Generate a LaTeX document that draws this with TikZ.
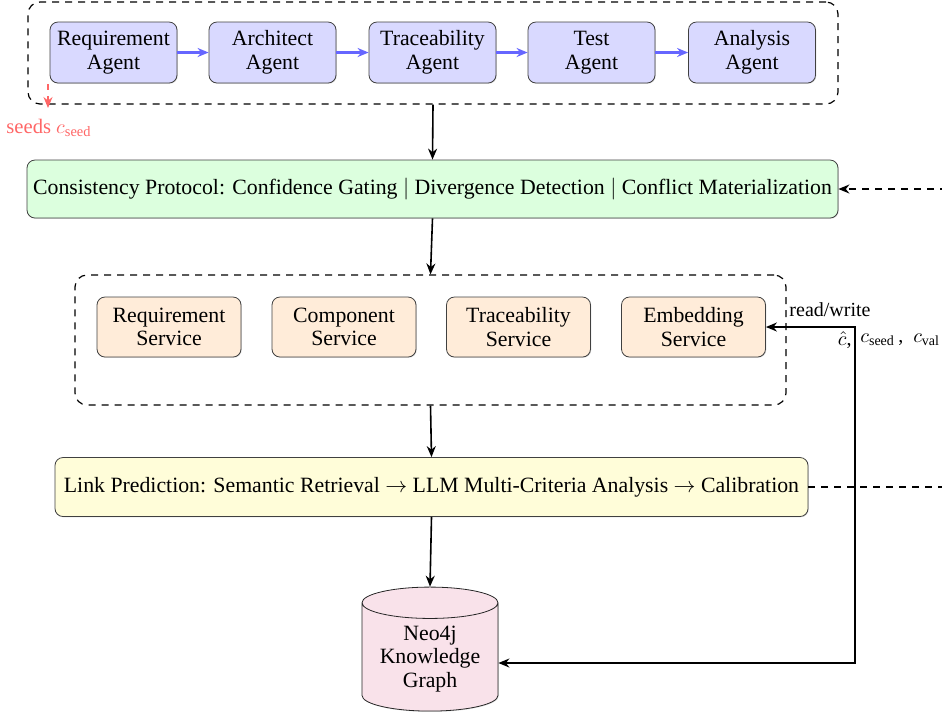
\documentclass[tikz,border=0pt]{standalone}
\usepackage{fontspec}
\setmainfont{Liberation Serif}
\usetikzlibrary{shapes.geometric,arrows.meta,shadows}
\definecolor{dbpink}{RGB}{249,226,234}
\definecolor{consgreen}{RGB}{220,255,222}
\begin{document}
\begin{tikzpicture}[x=0.5pt,y=-0.5pt,
  font=\fontsize{10.9pt}{11.8pt}\selectfont,
  box/.style={draw=black!75, rounded corners=4pt, align=center, inner sep=1pt,
    drop shadow={shadow xshift=0.4pt,shadow yshift=-0.4pt,opacity=0.25}},
  agent/.style={box, fill=blue!15, minimum width=63.5pt, minimum height=30.5pt},
  service/.style={box, fill=orange!15, minimum width=72pt, minimum height=30pt},
  container/.style={draw=black, line width=0.6pt, dash pattern=on 3.5pt off 3pt, rounded corners=6pt, minimum height=0pt, inner sep=0pt},
  flow/.style={-{Stealth[length=5.5pt,width=4.5pt]}, thick},
  agentflow/.style={-{Stealth[length=5.5pt,width=4.5pt]}, very thick, blue!60},
  feedback/.style={thick, dash pattern=on 3.5pt off 3pt},
  lbl/.style={inner sep=0pt, font=\fontsize{10pt}{11pt}\selectfont}
]
\useasboundingbox (0,0) rectangle (942,720);
\clip (0,0) rectangle (942,720);

% top container with agents
\node[container, minimum width=405pt, minimum height=51pt] (top) at (433,53) {};
\node[agent] (a1) at (113.5,52.5) {Requirement\\Agent};
\node[agent] (a2) at (272.5,52.5) {Architect\\Agent};
\node[agent] (a3) at (432.5,52.5) {Traceability\\Agent};
\node[agent] (a4) at (591.5,52.5) {Test\\Agent};
\node[agent] (a5) at (752,52.5) {Analysis\\Agent};
\draw[agentflow] (a1) -- (a2);
\draw[agentflow] (a2) -- (a3);
\draw[agentflow] (a3) -- (a4);
\draw[agentflow] (a4) -- (a5);

% seeds
\coordinate (seedstart) at (48,84);
\coordinate (seedend) at (48,108);
\draw[red!60, thick, dashed, -{Stealth[length=5.5pt,width=4.5pt]}] (seedstart) -- (seedend);
\node[red!60, anchor=north, inner sep=2pt, font=\fontsize{10.3pt}{11pt}\selectfont] (seeds) at (49,115) {seeds $c_{\mathrm{seed}}$};

% consistency protocol
\node[box, fill=consgreen, minimum width=405.5pt, minimum height=29pt] (cons) at (432.5,189)
  {Consistency Protocol: Confidence Gating $|$ Divergence Detection $|$ Conflict Materialization};
\draw[flow] (top.south) -- (cons.north);

% services
\node[container, minimum width=355.5pt, minimum height=65pt] (svc) at (430.5,340) {};
\node[service] (s1) at (169,327) {Requirement\\Service};
\node[service] (s2) at (344,327) {Component\\Service};
\node[service] (s3) at (518.5,327) {Traceability\\Service};
\node[service] (s4) at (693.5,327) {Embedding\\Service};
\draw[flow] (cons.south) -- (svc.north);

% link prediction
\node[box, fill=yellow!15, minimum width=376.5pt, minimum height=29.5pt] (link) at (431.5,487)
  {Link Prediction: Semantic Retrieval $\rightarrow$ LLM Multi-Criteria Analysis $\rightarrow$ Calibration};
\draw[flow] (svc.south) -- (link.north);

% database
\node[cylinder, shape border rotate=90, aspect=0.3, draw=black!85, fill=dbpink, align=center,
  minimum width=68pt, minimum height=62pt, inner sep=1pt,
  drop shadow={shadow xshift=0.4pt,shadow yshift=-0.4pt,opacity=0.25}] (db) at (430,659)
  {Neo4j\\Knowledge\\Graph};
\draw[flow] (link.south) -- (db.north);

% read/write link
\coordinate (turn) at (855,327);
\draw[thick, {Stealth[length=5.5pt,width=4.5pt]}-{Stealth[length=5.5pt,width=4.5pt]}] (s4.east) -- (turn) |- ([yshift=-2pt]db.east);
\node[lbl] (rw) at (830,310) {read/write};
\node[lbl, anchor=east] (chat) at (852,340) {$\hat{c}$,};
\node[lbl, anchor=west] (vals) at (860,340) {$c_{\mathrm{seed}}$\,,\ \ $c_{\mathrm{val}}$};

% feedback dashed lines (continue beyond the frame)
\coordinate (fbtop) at (960,189);
\coordinate (fbbot) at (960,487);
\draw[feedback, -{Stealth[length=5.5pt,width=4.5pt]}] (fbtop) -- (cons.east);
\draw[feedback] (link.east) -- (fbbot);
\end{tikzpicture}
\end{document}
